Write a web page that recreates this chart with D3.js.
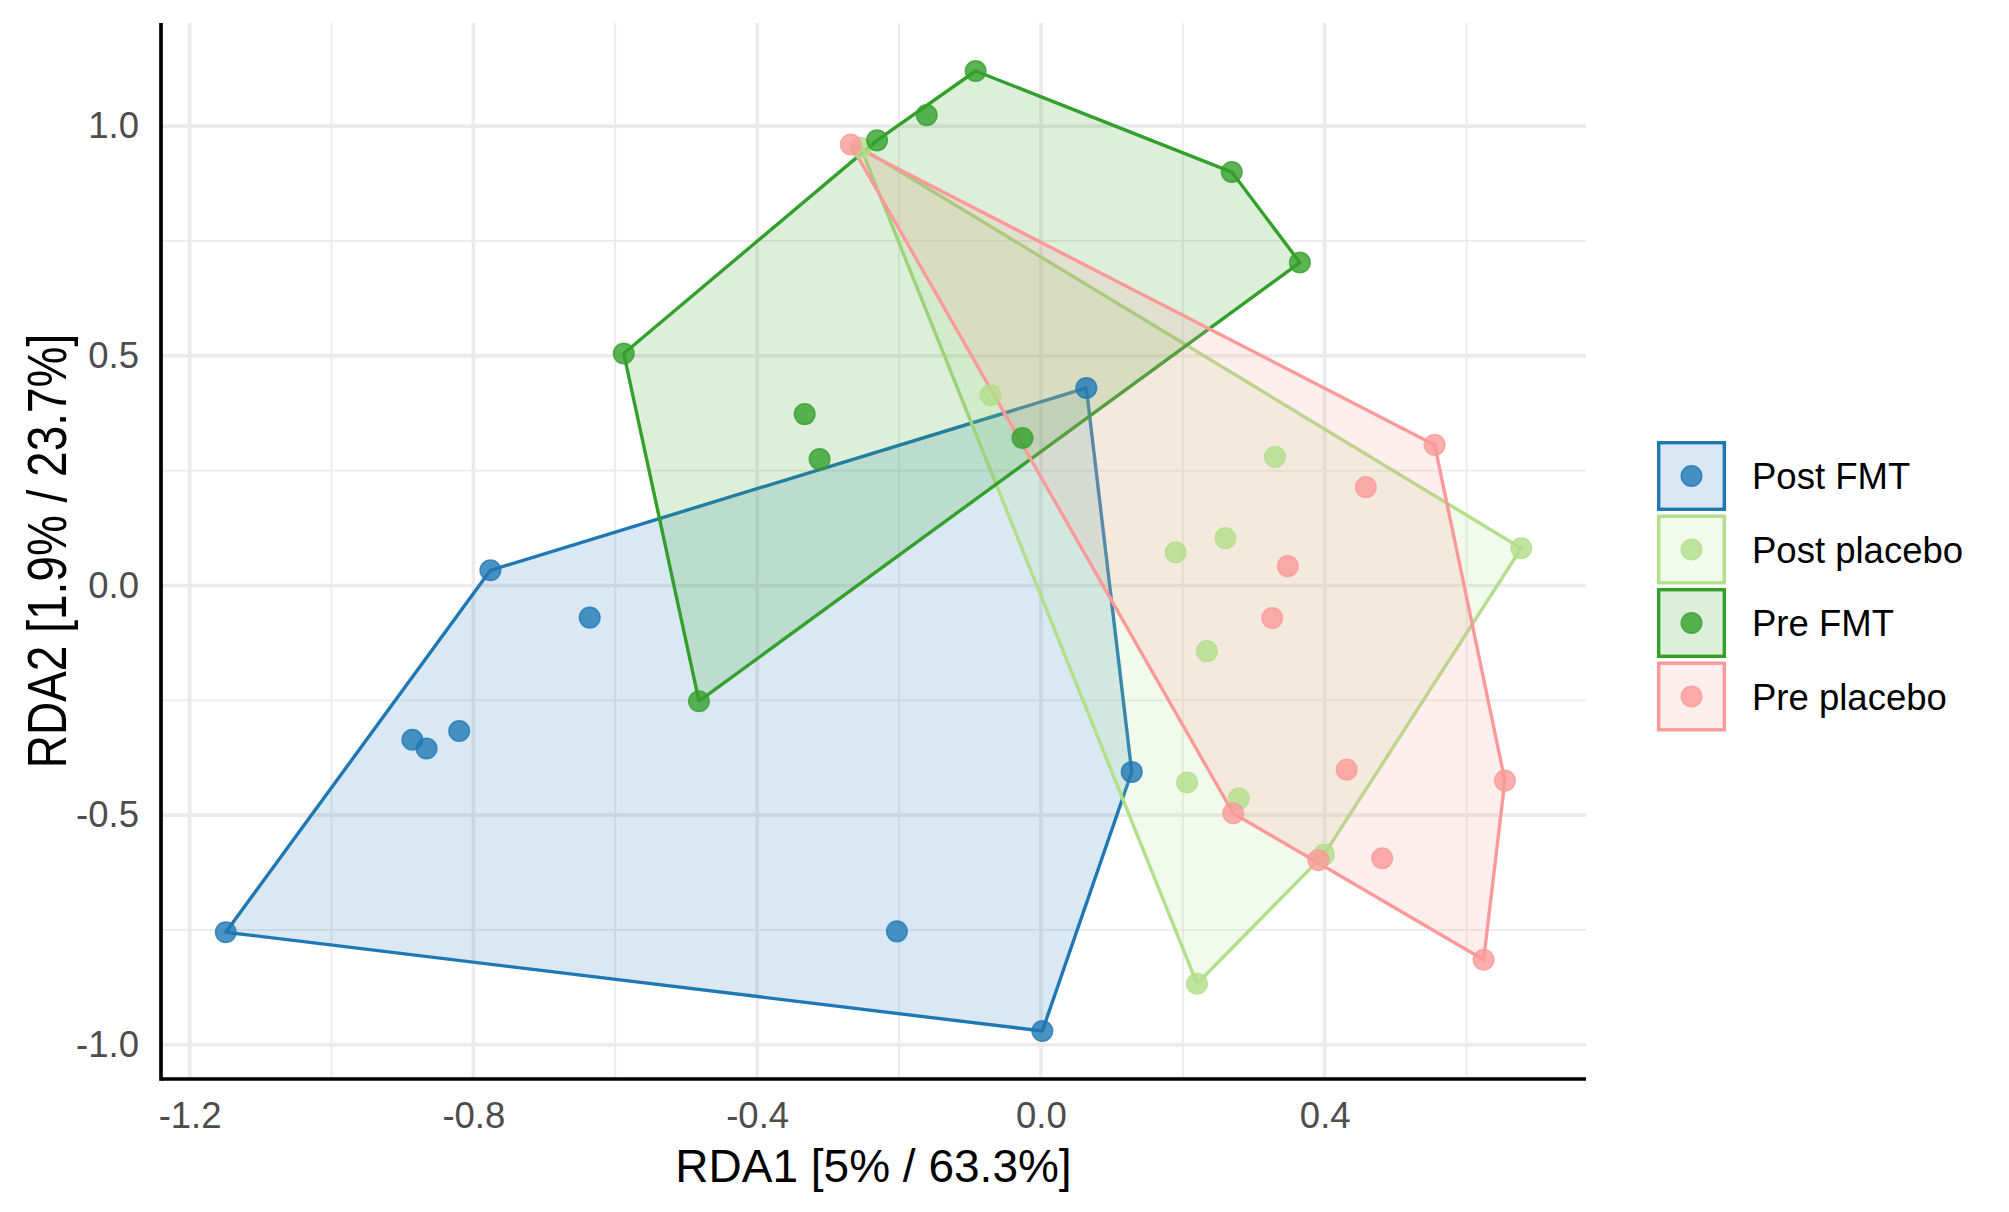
<!DOCTYPE html>
<html>
<head>
<meta charset="utf-8">
<script src="https://cdn.jsdelivr.net/npm/d3@7"></script>
<style>
  body { margin: 0; background: #fff; }
  text { font-family: "Liberation Sans", Arial, sans-serif; }
</style>
</head>
<body>
<svg class="chart"></svg>
<script>
// groups, in legend order
const groups = ['Post FMT', 'Post placebo', 'Pre FMT', 'Pre placebo'];
const colors = ['#1f78b4', '#b2df8a', '#33a02c', '#fb9a99'];

// RDA1 / RDA2 scores, one array per group
const postFMT = [
    [0.064, 0.430], [-0.776, 0.033], [-0.636, -0.070], [-0.886, -0.336], [-0.866, -0.355],
    [-0.820, -0.317], [-1.149, -0.755], [-0.203, -0.753], [0.002, -0.970], [0.128, -0.406]
];
const postPlacebo = [
    [-0.254, 0.953], [-0.071, 0.414], [0.330, 0.280], [0.260, 0.103], [0.190, 0.072], [0.677, 0.081],
    [0.234, -0.143], [0.206, -0.429], [0.279, -0.464], [0.399, -0.586], [0.220, -0.867]
];
const preFMT = [
    [-0.092, 1.120], [-0.161, 1.024], [-0.231, 0.969], [0.269, 0.900], [0.365, 0.703],
    [-0.588, 0.505], [-0.333, 0.373], [-0.312, 0.275], [-0.026, 0.321], [-0.482, -0.252]
];
const prePlacebo = [
    [-0.268, 0.960], [0.555, 0.306], [0.458, 0.214], [0.348, 0.042], [0.326, -0.071], [0.654, -0.425],
    [0.431, -0.401], [0.271, -0.496], [0.391, -0.598], [0.481, -0.594], [0.624, -0.815]
];

const xTicks = [-1.2, -0.8, -0.4, 0.0, 0.4];
const xMinor = [-1.0, -0.6, -0.2, 0.2, 0.6];
const yTicks = [-1.0, -0.5, 0.0, 0.5, 1.0];
const yMinor = [-0.75, -0.25, 0.25, 0.75];

const xTitle = 'RDA1 [5% / 63.3%]';
const yTitle = 'RDA2 [1.9% / 23.7%]';

const draw = () => {
    const width = 2009, height = 1212;
    const left = 161, right = 1586, top = 23, bottom = 1079;

    const series = [postFMT, postPlacebo, preFMT, prePlacebo].map((pts, i) => ({
        group: groups[i],
        color: colors[i],
        points: pts
    }));
    const all = series.flatMap(s => s.points);

    // ggplot style 5% expansion around the data
    const expand = ext => {
        const pad = (ext[1] - ext[0]) * 0.05;
        return [ext[0] - pad, ext[1] + pad];
    };
    const x = d3.scaleLinear()
        .domain(expand(d3.extent(all, d => d[0])))
        .range([left, right]);
    const y = d3.scaleLinear()
        .domain(expand(d3.extent(all, d => d[1])))
        .range([bottom, top]);

    const svg = d3.select('.chart')
        .attr('width', width)
        .attr('height', height);

    // grid
    const grid = svg.append('g');
    grid.selectAll('.xminor').data(xMinor).enter().append('line')
        .attr('x1', d => x(d)).attr('x2', d => x(d))
        .attr('y1', top).attr('y2', bottom)
        .attr('stroke', '#ebebeb').attr('stroke-width', 1.8);
    grid.selectAll('.yminor').data(yMinor).enter().append('line')
        .attr('x1', left).attr('x2', right)
        .attr('y1', d => y(d)).attr('y2', d => y(d))
        .attr('stroke', '#ebebeb').attr('stroke-width', 1.8);
    grid.selectAll('.xmajor').data(xTicks).enter().append('line')
        .attr('x1', d => x(d)).attr('x2', d => x(d))
        .attr('y1', top).attr('y2', bottom)
        .attr('stroke', '#ebebeb').attr('stroke-width', 3.6);
    grid.selectAll('.ymajor').data(yTicks).enter().append('line')
        .attr('x1', left).attr('x2', right)
        .attr('y1', d => y(d)).attr('y2', d => y(d))
        .attr('stroke', '#ebebeb').attr('stroke-width', 3.6);

    // convex hulls
    svg.append('g').selectAll('path')
        .data(series)
        .enter().append('path')
        .attr('d', s => 'M' + d3.polygonHull(s.points.map(p => [x(p[0]), y(p[1])])).join('L') + 'Z')
        .attr('fill', s => s.color)
        .attr('fill-opacity', 0.17)
        .attr('stroke', s => s.color)
        .attr('stroke-width', 3.4)
        .attr('stroke-linejoin', 'round');

    // points
    series.forEach(s => {
        svg.append('g').selectAll('circle')
            .data(s.points)
            .enter().append('circle')
            .attr('cx', d => x(d[0]))
            .attr('cy', d => y(d[1]))
            .attr('r', 10.3)
            .attr('fill', s.color)
            .attr('fill-opacity', 0.8)
            .attr('stroke', s.color)
            .attr('stroke-opacity', 0.8)
            .attr('stroke-width', 1.5);
    });

    // axes: labels only, no tick marks
    const fmt = d => d.toFixed(1);
    const xAxis = svg.append('g')
        .attr('transform', 'translate(0,' + bottom + ')')
        .call(d3.axisBottom(x).tickValues(xTicks).tickSize(0).tickPadding(23).tickFormat(fmt));
    const yAxis = svg.append('g')
        .attr('transform', 'translate(' + left + ',0)')
        .call(d3.axisLeft(y).tickValues(yTicks).tickSize(0).tickPadding(22).tickFormat(fmt));
    [xAxis, yAxis].forEach(a => {
        a.select('.domain').remove();
        a.selectAll('text')
            .attr('fill', '#4d4d4d')
            .style('font-size', '36.5px')
            .style('font-family', '"Liberation Sans", Arial, sans-serif');
    });

    // axis lines
    svg.append('line')
        .attr('x1', left).attr('x2', right)
        .attr('y1', bottom).attr('y2', bottom)
        .attr('stroke', '#000').attr('stroke-width', 3.7);
    svg.append('line')
        .attr('x1', left).attr('x2', left)
        .attr('y1', top).attr('y2', bottom + 1.8)
        .attr('stroke', '#000').attr('stroke-width', 3.7);

    // titles
    svg.append('text')
        .attr('x', (left + right) / 2)
        .attr('y', 1182)
        .attr('text-anchor', 'middle')
        .style('font-size', '46px')
        .text(xTitle);
    svg.append('text')
        .attr('transform', 'translate(66,' + ((top + bottom) / 2) + ') rotate(-90) scale(1,1.2)')
        .attr('text-anchor', 'middle')
        .style('font-size', '46px')
        .text(yTitle);

    // legend
    const keyW = 69, keyH = 70, step = 73.5;
    const legend = svg.append('g')
        .attr('transform', 'translate(1657,441)');
    const key = legend.selectAll('g')
        .data(series)
        .enter().append('g')
        .attr('transform', (d, i) => 'translate(0,' + i * step + ')');
    key.append('rect')
        .attr('x', 1.7).attr('y', 1.7)
        .attr('width', keyW - 3.4).attr('height', keyH - 3.4)
        .attr('fill', s => s.color)
        .attr('fill-opacity', 0.17)
        .attr('stroke', s => s.color)
        .attr('stroke-width', 3.4);
    key.append('circle')
        .attr('cx', keyW / 2).attr('cy', keyH / 2)
        .attr('r', 10.3)
        .attr('fill', s => s.color)
        .attr('fill-opacity', 0.8)
        .attr('stroke', s => s.color)
        .attr('stroke-opacity', 0.8)
        .attr('stroke-width', 1.5);
    key.append('text')
        .attr('x', 95)
        .attr('y', keyH / 2)
        .attr('dy', '0.36em')
        .style('font-size', '36.5px')
        .text(s => s.group);
};

document.addEventListener('DOMContentLoaded', draw);
</script>
</body>
</html>
